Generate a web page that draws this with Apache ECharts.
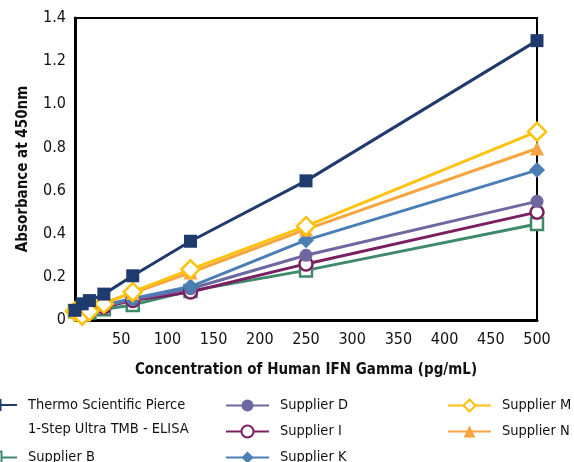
<!DOCTYPE html>
<html>
<head>
<meta charset="utf-8">
<script src="https://cdn.jsdelivr.net/npm/echarts@6/dist/echarts.min.js"></script>
<style>
  html, body { margin: 0; padding: 0; background: #fff; }
  #chart { width: 574px; height: 462px; }
</style>
</head>
<body>
<div id="chart"></div>
<script>
// Concentration points (pg/mL)
const concentrations = [0, 7.8, 15.6, 31.25, 62.5, 125, 250, 500];

// Absorbance at 450nm per kit
const thermoValues    = [0.045, 0.075, 0.09, 0.12, 0.205, 0.365, 0.645, 1.295];
const supplierBValues = [0.04, 0.025, 0.035, 0.05, 0.07, 0.135, 0.23, 0.445];
const supplierDValues = [0.04, 0.03, 0.045, 0.065, 0.095, 0.145, 0.30, 0.55];
const supplierIValues = [0.04, 0.03, 0.04, 0.06, 0.09, 0.13, 0.26, 0.50];
const supplierKValues = [0.04, 0.03, 0.045, 0.07, 0.10, 0.155, 0.37, 0.695];
const supplierMValues = [0.04, 0.02, 0.04, 0.075, 0.13, 0.235, 0.435, 0.873];
const supplierNValues = [0.04, 0.03, 0.05, 0.08, 0.125, 0.22, 0.42, 0.795];

const seriesNames = [
  'Thermo Scientific Pierce 1-Step Ultra TMB - ELISA',
  'Supplier B', 'Supplier D', 'Supplier I', 'Supplier K', 'Supplier M', 'Supplier N'
];

const xTicks = { min: 0, max: 500, interval: 50 };
const yTicks = { min: 0, max: 1.4, interval: 0.2 };

const FONT = '"Liberation Sans Narrow", "DejaVu Sans Condensed", "Liberation Sans", sans-serif';

function pairs(values) {
  return concentrations.map((c, i) => [c, values[i]]);
}

function makeSeries(name, values, color, symbol, size, hollow) {
  return {
    name: name,
    type: 'line',
    data: pairs(values),
    symbol: symbol,
    symbolSize: size,
    showAllSymbol: true,
    lineStyle: { color: color, width: 3 },
    itemStyle: hollow
      ? { color: '#ffffff', borderColor: color, borderWidth: 2.5 }
      : { color: color, borderColor: color, borderWidth: 0 },
    emphasis: { disabled: true },
    animation: false
  };
}

const series = [
  makeSeries(seriesNames[1], supplierBValues, '#3f8a6b', 'rect', 12, true),
  makeSeries(seriesNames[3], supplierIValues, '#7b1f63', 'circle', 13, true),
  makeSeries(seriesNames[2], supplierDValues, '#6d68a0', 'circle', 13, false),
  makeSeries(seriesNames[4], supplierKValues, '#4a7eb4', 'diamond', 16, false),
  makeSeries(seriesNames[6], supplierNValues, '#f7a541', 'triangle', 14, false),
  makeSeries(seriesNames[5], supplierMValues, '#ffc20e', 'diamond', 18, true),
  makeSeries(seriesNames[0], thermoValues, '#1f3a6d', 'rect', 13, false)
];

const legendText = { fontFamily: FONT, fontSize: 14.5, color: '#111', padding: [0, 0, 0, 6] };
const legendBase = {
  orient: 'vertical',
  padding: 0,
  itemWidth: 43,
  itemHeight: 15,
  itemGap: 11,
  textStyle: legendText,
  selectedMode: false
};

const chart = echarts.init(document.getElementById('chart'), null, { renderer: 'canvas' });
chart.setOption({
  backgroundColor: '#ffffff',
  animation: false,
  grid: {
    left: 75, right: 37, top: 18, bottom: 142,
    show: true, borderColor: '#000', borderWidth: 2
  },
  xAxis: {
    type: 'value',
    min: xTicks.min, max: xTicks.max, interval: xTicks.interval,
    name: 'Concentration of Human IFN Gamma (pg/mL)',
    nameLocation: 'middle',
    nameGap: 43,
    nameTextStyle: { fontFamily: FONT, fontSize: 15, fontWeight: 'bold', color: '#111' },
    axisLine: { lineStyle: { color: '#000', width: 3 } },
    axisTick: { show: false },
    splitLine: { show: false },
    axisLabel: {
      fontFamily: FONT, fontSize: 16, color: '#111', margin: 12,
      formatter: v => (v === 0 ? '' : String(v))
    }
  },
  yAxis: {
    type: 'value',
    min: yTicks.min, max: yTicks.max, interval: yTicks.interval,
    name: 'Absorbance at 450nm',
    nameLocation: 'middle',
    nameGap: 44,
    nameTextStyle: { fontFamily: FONT, fontSize: 15, fontWeight: 'bold', color: '#111' },
    axisLine: { show: true, lineStyle: { color: '#000', width: 3 } },
    axisTick: { show: false },
    splitLine: { show: false },
    axisLabel: {
      fontFamily: FONT, fontSize: 16, color: '#111', margin: 9,
      formatter: v => (v === 0 ? '0' : v.toFixed(1))
    }
  },
  legend: [
    Object.assign({}, legendBase, {
      left: -27, top: 369, height: 75,
      data: [seriesNames[0]],
      formatter: () => '\nThermo Scientific Pierce\n1-Step Ultra TMB - ELISA',
      textStyle: Object.assign({}, legendText, { lineHeight: 24 })
    }),
    Object.assign({}, legendBase, { left: -27, top: 450, height: 20, data: [seriesNames[1]] }),
    Object.assign({}, legendBase, { left: 225, top: 398, height: 75, data: [seriesNames[2], seriesNames[3], seriesNames[4]] }),
    Object.assign({}, legendBase, { left: 447, top: 398, height: 75, data: [seriesNames[5], seriesNames[6]] })
  ],
  series: series
});
</script>
</body>
</html>
